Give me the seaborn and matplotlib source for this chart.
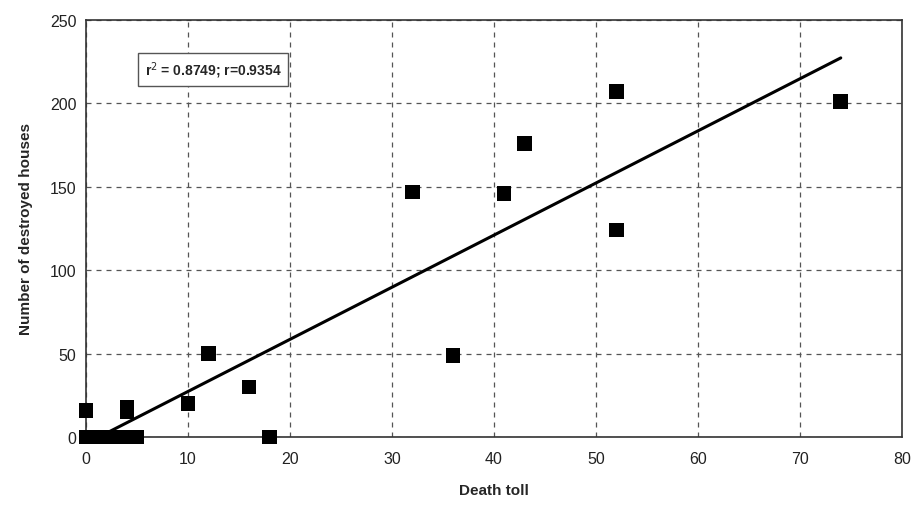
import matplotlib
matplotlib.use("Agg")
import matplotlib.pyplot as plt
import seaborn as sns
import pandas as pd

death_toll = [0, 0, 1, 2, 3, 4, 5, 4, 4, 10, 12, 16, 18, 32, 36, 41, 43, 52, 52, 74]
destroyed_houses = [16, 0, 0, 0, 0, 0, 0, 18, 15, 20, 50, 30, 0, 147, 49, 146, 176, 207, 124, 201]
x_ticks = [0, 10, 20, 30, 40, 50, 60, 70, 80]
y_ticks = [0, 50, 100, 150, 200, 250]
stats_label = "r$^2$ = 0.8749; r=0.9354"

df = pd.DataFrame({"Death toll": death_toll, "Number of destroyed houses": destroyed_houses})

sns.set_style("white")
plt.rcParams["font.family"] = ["Liberation Sans", "DejaVu Sans"]

fig = plt.figure(figsize=(9.12, 5.06), dpi=100)
ax = fig.add_axes([0.0943, 0.1344, 0.8947, 0.8241])

sns.regplot(data=df, x="Death toll", y="Number of destroyed houses", ax=ax, ci=None,
            marker="s", color="black",
            scatter_kws={"s": 110, "alpha": 1, "clip_on": False, "zorder": 5, "edgecolors": "none"},
            line_kws={"lw": 2.2, "color": "black", "zorder": 4})

ax.set_xlim(0, 80)
ax.set_ylim(0, 250)
ax.set_xticks(x_ticks)
ax.set_yticks(y_ticks)
ax.grid(True, linestyle=(0, (4, 4)), color="#555555", lw=0.9)
for s in ax.spines.values():
    s.set_color("#333333")
    s.set_linewidth(1.2)
    s.set_visible(True)
ax.tick_params(axis="y", direction="out", length=4, width=1, colors="#333333", labelsize=11.5, pad=3)
ax.tick_params(axis="x", direction="in", length=4, width=1, colors="#333333", labelsize=11.5, pad=10)
for lbl in ax.get_xticklabels() + ax.get_yticklabels():
    lbl.set_color("#222222")

ax.set_xlabel("Death toll", fontsize=11, fontweight="bold", labelpad=12)
ax.set_ylabel("Number of destroyed houses", fontsize=11, fontweight="bold", labelpad=12)

ax.text(5.75, 220.5, stats_label, fontsize=10, fontweight="bold", ha="left", va="center",
        bbox=dict(boxstyle="square,pad=0.45", fc="white", ec="#555555", lw=1), zorder=6)

fig.savefig("out.png", dpi=100)
